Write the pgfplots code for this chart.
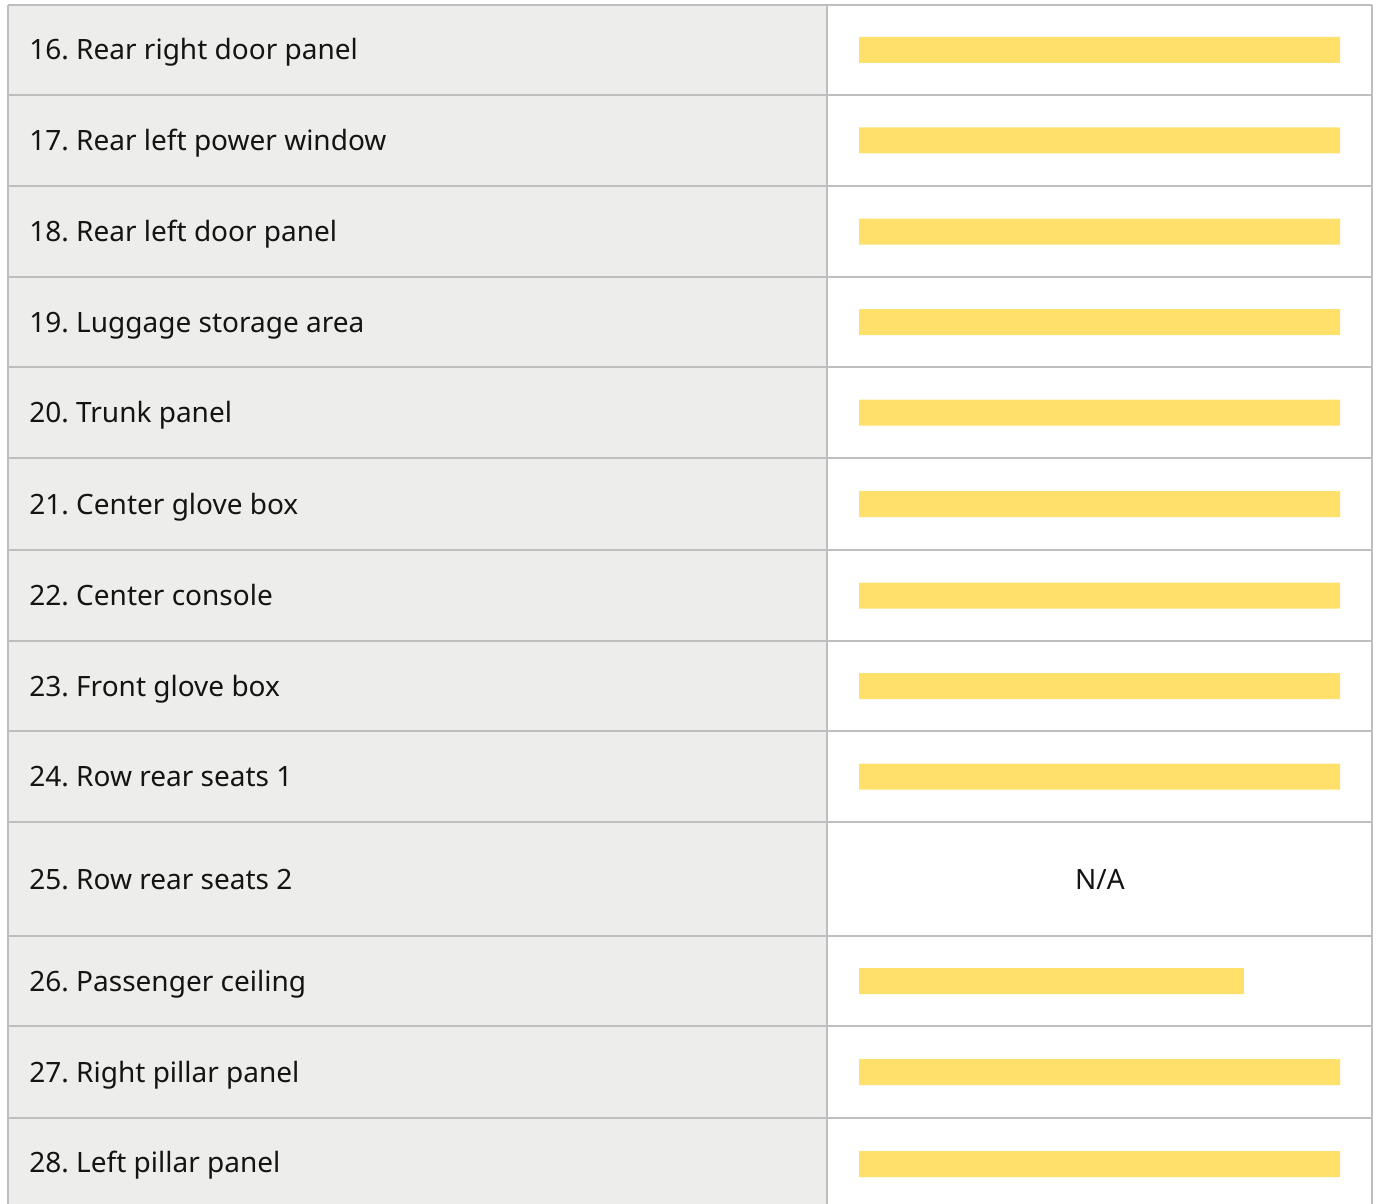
\documentclass[border=0pt]{standalone}
\usepackage{fontspec}
\setmainfont{Noto Sans}
\usepackage{pgfplots}
\pgfplotsset{compat=1.18}
\definecolor{barc}{HTML}{FFE06B}
\definecolor{cellbg}{HTML}{EDEEEB}
\definecolor{gridc}{HTML}{BEBEBE}
\definecolor{txt}{HTML}{141414}
\frenchspacing
\begin{document}
\begin{tikzpicture}
\begin{axis}[name=tab, at={(0,0)}, anchor=south west, scale only axis,
  width=688.5pt, height=602pt, xmin=0, xmax=1377, ymin=0, ymax=1204,
  y dir=reverse, axis lines=none, ticks=none, clip=true]
\fill[cellbg] (axis cs:8,5) rectangle (axis cs:827,1210);
\pgfplotsinvokeforeach{5,95,186,277,367,458,550,641,731,822,936,1026,1118}{
  \draw[gridc, line width=0.8pt] (axis cs:8,#1) -- (axis cs:1372,#1);
}
\draw[gridc, line width=1pt] (axis cs:8,5) -- (axis cs:8,1210);
\draw[gridc, line width=0.8pt] (axis cs:827,5) -- (axis cs:827,1210);
\draw[gridc, line width=0.8pt] (axis cs:1372,5) -- (axis cs:1372,1210);
\node[anchor=base west, inner sep=0pt, text=txt, font=\fontsize{14}{17}\selectfont] at (axis cs:29,60) {16. Rear right door panel};
\node[anchor=base west, inner sep=0pt, text=txt, font=\fontsize{14}{17}\selectfont] at (axis cs:29,150.5) {17. Rear left power window};
\node[anchor=base west, inner sep=0pt, text=txt, font=\fontsize{14}{17}\selectfont] at (axis cs:29,241.5) {18. Rear left door panel};
\node[anchor=base west, inner sep=0pt, text=txt, font=\fontsize{14}{17}\selectfont] at (axis cs:29,332) {19. Luggage storage area};
\node[anchor=base west, inner sep=0pt, text=txt, font=\fontsize{14}{17}\selectfont] at (axis cs:29,422.5) {20. Trunk panel};
\node[anchor=base west, inner sep=0pt, text=txt, font=\fontsize{14}{17}\selectfont] at (axis cs:29,514) {21. Center glove box};
\node[anchor=base west, inner sep=0pt, text=txt, font=\fontsize{14}{17}\selectfont] at (axis cs:29,605.5) {22. Center console};
\node[anchor=base west, inner sep=0pt, text=txt, font=\fontsize{14}{17}\selectfont] at (axis cs:29,696) {23. Front glove box};
\node[anchor=base west, inner sep=0pt, text=txt, font=\fontsize{14}{17}\selectfont] at (axis cs:29,786.5) {24. Row rear seats 1};
\node[anchor=base west, inner sep=0pt, text=txt, font=\fontsize{14}{17}\selectfont] at (axis cs:29,889) {25. Row rear seats 2};
\node[anchor=base west, inner sep=0pt, text=txt, font=\fontsize{14}{17}\selectfont] at (axis cs:29,991) {26. Passenger ceiling};
\node[anchor=base west, inner sep=0pt, text=txt, font=\fontsize{14}{17}\selectfont] at (axis cs:29,1082) {27. Right pillar panel};
\node[anchor=base west, inner sep=0pt, text=txt, font=\fontsize{14}{17}\selectfont] at (axis cs:29,1172.5) {28. Left pillar panel};
\node[anchor=base, inner sep=0pt, text=txt, font=\fontsize{14}{17}\selectfont] at (axis cs:1100,889) {N/A};
\end{axis}
\begin{axis}[at={(429.5pt,0)}, anchor=south west, scale only axis,
  width=240.5pt, height=602pt, xmin=0, xmax=100, ymin=0, ymax=1204,
  y dir=reverse, axis lines=none, ticks=none, clip=false,
  xbar, bar width=13pt]
\addplot[fill=barc, draw=none] coordinates {
(100,50) (100,140.5) (100,231.5) (100,322) (100,412.5) (100,504)
(100,595.5) (100,686) (100,776.5) (80,981) (100,1072) (100,1164)};
\end{axis}
\pgfresetboundingbox
\useasboundingbox (0,0) rectangle (688.5pt,602pt);
\end{tikzpicture}
\end{document}
